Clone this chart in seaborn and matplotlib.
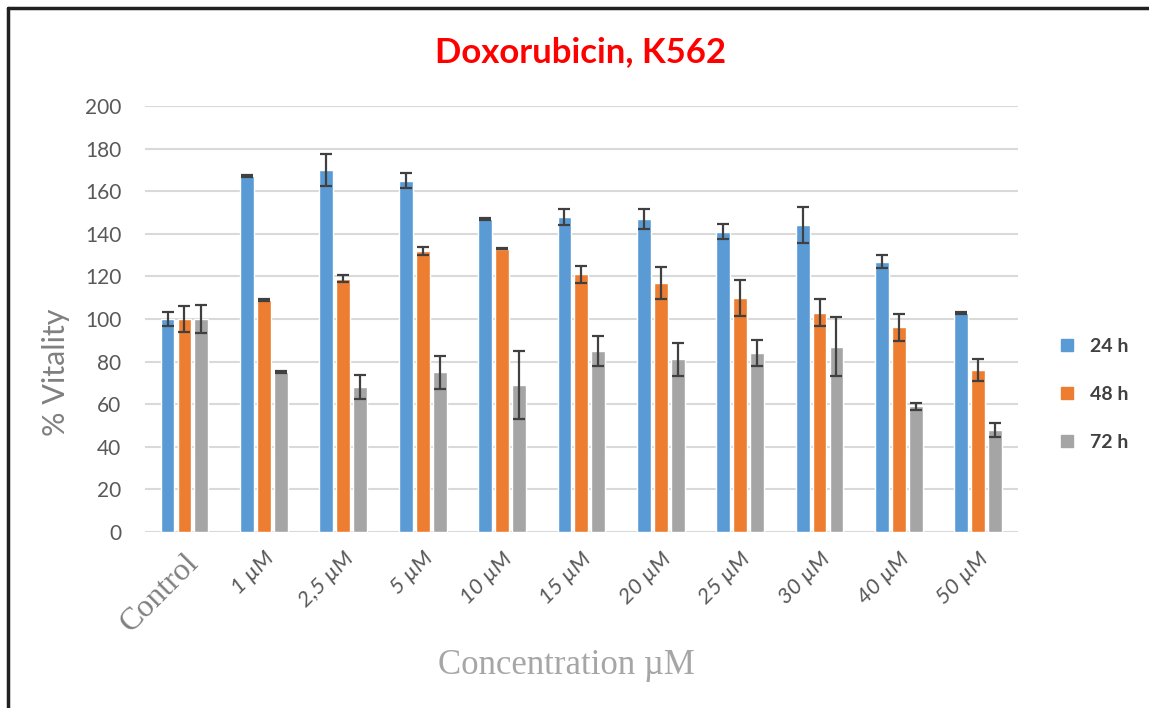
import pandas as pd
import matplotlib.pyplot as plt
import seaborn as sns
from matplotlib.lines import Line2D

# Data
concentrations = ["Control", "1 µM", "2,5 µM", "5 µM", "10 µM", "15 µM",
                  "20 µM", "25 µM", "30 µM", "40 µM", "50 µM"]
times = ["24 h", "48 h", "72 h"]

vit_24h = [100, 167, 170, 165, 147, 148, 147, 141, 144, 127, 103]
vit_48h = [100, 109, 119, 132, 133, 121, 117, 110, 103, 96, 76]
vit_72h = [100, 75, 68, 75, 69, 85, 81, 84, 87, 59, 48]

err_24h = [3.5, 0.5, 7.5, 3.5, 0.3, 3.8, 4.5, 3.5, 8.5, 3.0, 0.5]
err_48h = [6, 0.5, 1.8, 1.8, 0.3, 4, 7.5, 8.5, 6.3, 6.5, 5.2]
err_72h = [6.5, 0.5, 5.5, 7.8, 16, 7, 7.7, 6.3, 14, 1.6, 3.3]

colors = ["#5B9BD5", "#ED7D31", "#A5A5A5"]

df = pd.DataFrame({
    "conc": concentrations * 3,
    "time": [t for t in times for _ in concentrations],
    "vitality": vit_24h + vit_48h + vit_72h,
    "err": err_24h + err_48h + err_72h,
})

sns.set_style("white")
plt.rcParams['font.family'] = ['Lato', 'DejaVu Sans']

fig = plt.figure(figsize=(11.49, 7.08), dpi=100)
ax = fig.add_axes([0.126, 0.249, 0.760, 0.601])

sns.barplot(data=df, x="conc", y="vitality", hue="time", order=concentrations,
            hue_order=times, palette=colors, width=0.64, gap=0.18,
            errorbar=None, saturation=1, ax=ax, zorder=3)

# error bars at the bar positions
for cont, t in zip(ax.containers, times):
    sub = df[df["time"] == t].set_index("conc").loc[concentrations]
    xs = [p.get_x() + p.get_width() / 2 for p in cont.patches]
    ax.errorbar(xs, sub["vitality"], yerr=sub["err"], fmt="none",
                ecolor="#404040", elinewidth=1.6, capsize=4, capthick=1.6, zorder=4)

ax.set_ylim(0, 200)
ax.set_xlim(-0.5, len(concentrations) - 0.5)
ax.set_yticks(range(0, 201, 20))
ax.yaxis.grid(True, color="#d9d9d9", linewidth=1.5, zorder=0)
ax.set_axisbelow(True)
for s in ax.spines.values():
    s.set_visible(False)
ax.tick_params(axis="both", length=0, colors="#595959")
ax.tick_params(axis="y", labelsize=15, pad=17)

ax.set_xticks(range(len(concentrations)))
ax.set_xticklabels(concentrations, rotation=45, ha="right", rotation_mode="anchor",
                   style="italic", fontsize=16, color="#595959")
lbls = ax.get_xticklabels()
lbls[0].set_fontfamily("Liberation Serif")
lbls[0].set_fontstyle("normal")
lbls[0].set_fontsize(23)
lbls[0].set_color("#808080")
ax.tick_params(axis="x", pad=12)

ax.set_ylabel("% Vitality", fontsize=22, color="#808080")
ax.yaxis.set_label_coords(-0.086, 0.375)
ax.set_xlabel("Concentration µM", fontsize=25, color="#a6a6a6",
              family="Liberation Serif")
ax.xaxis.set_label_coords(0.483, -0.275)
fig.text(0.505, 0.927, "Doxorubicin, K562", color="#FF0000", fontsize=25,
         fontweight="bold", ha="center", va="center")

handles = [Line2D([], [], marker="s", linestyle="none", markersize=9,
                  markerfacecolor=c, markeredgecolor=c) for c in colors]
ax.legend(handles, times, loc="center left", bbox_to_anchor=(0.905, 0.443),
          bbox_transform=fig.transFigure, frameon=False, labelspacing=1.6,
          handletextpad=0.2, borderaxespad=0, prop={"weight": "bold", "size": 14},
          labelcolor="#404040")

# partial frame like the cropped screenshot
fig.add_artist(Line2D([0.007, 1.0], [0.988, 0.988], color="#202020", lw=2.5,
                      transform=fig.transFigure))
fig.add_artist(Line2D([0.007, 0.007], [0.0, 0.988], color="#202020", lw=2.5,
                      transform=fig.transFigure))

fig.savefig("out.png", dpi=100)
